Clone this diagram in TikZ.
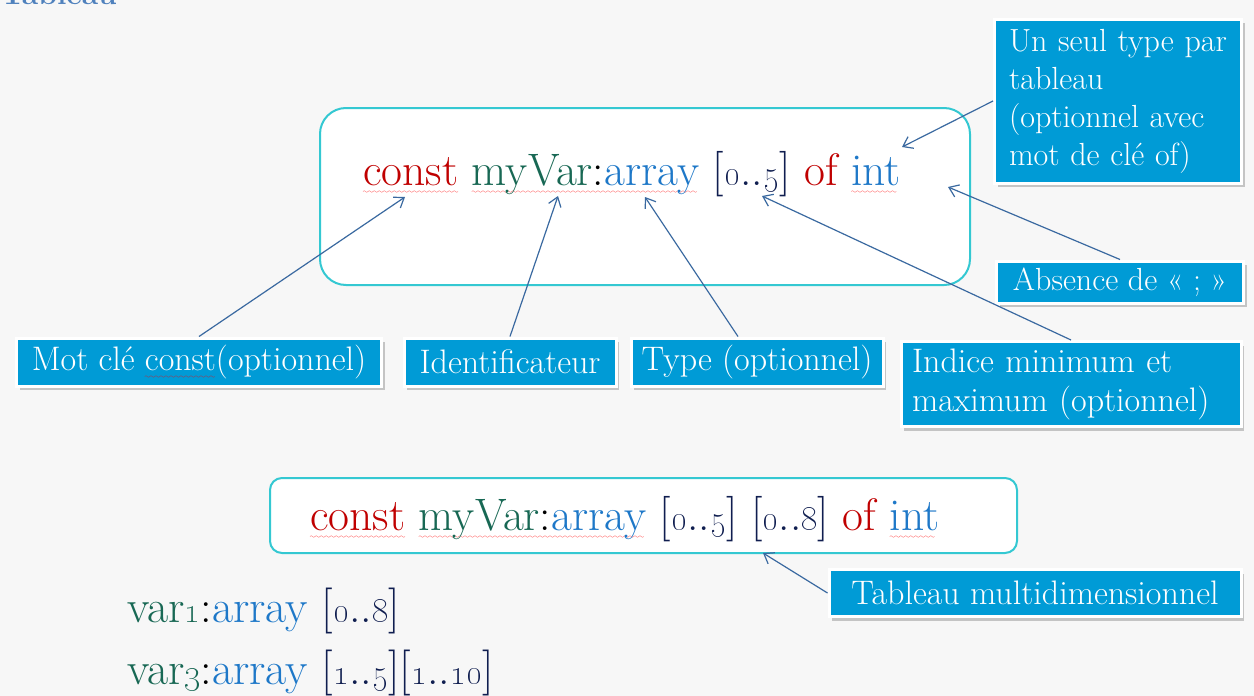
\documentclass[tikz,border=0pt]{standalone}
\usetikzlibrary{arrows.meta,shadows,calc}

\definecolor{callblue}{RGB}{0,155,214}
\definecolor{framecyan}{RGB}{52,200,210}
\definecolor{arrowblue}{RGB}{58,105,160}
\definecolor{kwred}{RGB}{192,0,0}
\definecolor{idgreen}{RGB}{24,104,84}
\definecolor{tyblue}{RGB}{30,120,200}
\definecolor{ixnavy}{RGB}{16,30,80}
\definecolor{headblue}{RGB}{79,129,189}
\definecolor{slidebg}{RGB}{247,247,247}

% red spell-check wave under a word
\font\wavefont=lasy6
\newcommand\spellwave[1]{\setbox0\hbox{#1}\leavevmode
  \rlap{\lower8pt\hbox to\wd0{\color{red}\leaders\hbox{\wavefont\char58}\hfil}}\box0\relax}
\newcommand\kw[1]{\textcolor{kwred}{#1}}
\newcommand\idn[1]{\textcolor{idgreen}{#1}}
\newcommand\ty[1]{\textcolor{tyblue}{#1}}
\newcommand\ix[1]{\textcolor{ixnavy}{#1}}
\newcommand\osn[1]{\oldstylenums{#1}}

\tikzset{
  callout/.style={draw=white, line width=3pt, fill=callblue, text=white,
    inner sep=4pt, font=\fontsize{34}{39}\selectfont,
    drop shadow={shadow xshift=3pt, shadow yshift=-4pt, opacity=0.35, fill=black!60}},
  codeframe/.style={draw=framecyan, line width=2pt, fill=white},
  codeline/.style={inner sep=0pt, anchor=base west, font=\fontsize{45.5}{50}\selectfont},
  exline/.style={inner sep=0pt, anchor=base west, font=\fontsize{46}{52}\selectfont},
  pointer/.style={draw=arrowblue, line width=1.2pt, -{Straight Barb[length=9pt,width=13pt]}},
}

\begin{document}
\begin{tikzpicture}[x=1pt, y=-1pt]
\clip (0,0) rectangle (1254,696);
\fill[slidebg] (0,0) rectangle (1254,696);

% slide heading, cut off by the top edge
\node[anchor=base west, inner sep=0pt, text=headblue,
      font=\bfseries\fontsize{30}{36}\selectfont] (head) at (1,5) {Tableau};

% upper declaration
\node[codeframe, rounded corners=26pt, minimum width=650pt, minimum height=177pt] (frame1) at (645,196.5) {};
\node[codeline] (code1) at (363,185)
  {\spellwave{\kw{const}} \spellwave{\idn{myVar}:\ty{array}} \ix{[\osn{0}..\osn{5}]} \kw{of} \spellwave{\ty{int}}};

% lower declaration
\node[codeframe, rounded corners=12pt, minimum width=747pt, minimum height=75pt] (frame2) at (643.5,515.5) {};
\node[codeline] (code2) at (310,530)
  {\spellwave{\kw{const}} \spellwave{\idn{myVar}:\ty{array}} \ix{[\osn{0}..\osn{5}] [\osn{0}..\osn{8}]} \kw{of} \spellwave{\ty{int}}};

% further examples
\node[exline] (ex1) at (127,622)
  {\idn{var\osn{1}}:\ty{array} \ix{[\osn{0}..\osn{8}]}};
\node[exline] (ex2) at (127,684)
  {\idn{var\osn{3}}:\ty{array} \ix{[\osn{1}..\osn{5}][\osn{1}..\osn{10}]}};

% callouts
\node[callout, minimum width=365pt, minimum height=48pt] (mot) at (199,362) {Mot clé \spellwave{const}(optionnel)};
\node[callout, minimum width=212pt, minimum height=48pt] (ident) at (510,362) {Identificateur};
\node[callout, minimum width=252pt, minimum height=48pt] (type) at (757,362) {Type (optionnel)};
\node[callout, minimum width=340pt, minimum height=85pt, align=left, inner xsep=8pt, text width=318pt] (indice) at (1071,384)
  {Indice minimum et\\maximum (optionnel)};
\node[callout, minimum width=247pt, minimum height=164pt, align=left, inner xsep=12pt, text width=218pt,
      font=\fontsize{32}{38}\selectfont] (seul) at (1118,101)
  {Un seul type par\\tableau\\(optionnel avec\\mot de clé of)};
\node[callout, minimum width=247pt, minimum height=42pt, font=\fontsize{32}{38}\selectfont] (absence) at (1120,282) {Absence de « ; »};
\node[callout, minimum width=412pt, minimum height=47pt] (multi) at (1035,593) {Tableau multidimensionnel};

% points the arrows aim at
\coordinate (tConst) at (405,197);
\coordinate (tIdent) at (558,196);
\coordinate (tType)  at (645,197);
\coordinate (tIdx)   at (762,196);
\coordinate (tEnd)   at (948,187);
\coordinate (tOf)    at (902,147);
\coordinate (tMulti) at (763,553);

% arrows
\draw[pointer] (mot.north) -- (tConst);
\draw[pointer] (ident.north) -- (tIdent);
\draw[pointer] ($(type.north)+(-19,0)$) -- (tType);
\draw[pointer] (indice.north) -- (tIdx);
\draw[pointer] (absence.north) -- (tEnd);
\draw[pointer] (seul.west) -- (tOf);
\draw[pointer] (multi.west) -- (tMulti);
\end{tikzpicture}
\end{document}
